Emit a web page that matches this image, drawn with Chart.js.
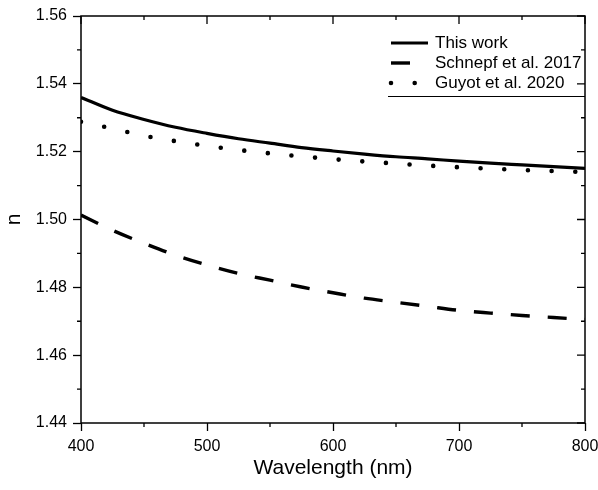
<!DOCTYPE html>
<html>
<head>
<meta charset="utf-8">
<script src="https://cdn.jsdelivr.net/npm/chart.js@4/dist/chart.umd.min.js"></script>
<style>
  body { margin: 0; background: #fff; }
  #chart { display: block; }
</style>
</head>
<body>
<canvas id="chart" width="598" height="490"></canvas>
<script>
// values (wavelength in nm, refractive index n)
const wavelengths = [400, 425, 450, 475, 500, 525, 550, 575, 600, 625, 650, 675, 700, 725, 750, 775, 800];
const thisWork = [1.5360, 1.5322, 1.5295, 1.5272, 1.5254, 1.5238, 1.5225, 1.5212, 1.5202, 1.5193, 1.5185, 1.5179, 1.5172, 1.5166, 1.5161, 1.5156, 1.5151];
const schnepf2017 = [1.5013, 1.4968, 1.4930, 1.4895, 1.4866, 1.4841, 1.4821, 1.4801, 1.4784, 1.4768, 1.4756, 1.4744, 1.4732, 1.4724, 1.4717, 1.4711, 1.4705];
const guyot2020 = [1.5288, 1.5268, 1.5247, 1.5231, 1.5217, 1.5205, 1.5195, 1.5186, 1.5178, 1.5171, 1.5165, 1.5159, 1.5154, 1.5150, 1.5146, 1.5143, 1.5140];
const seriesNames = ["This work", "Schnepf et al. 2017", "Guyot et al. 2020"];

const xRange = [400, 800];
const yRange = [1.44, 1.56];

const FONT = '"Liberation Sans", Arial, sans-serif';

const isMajorX = (v) => Math.round(v) % 100 === 0;
const isMajorY = (v) => Math.round(v * 100) % 2 === 0;

const toPoints = (values) => values.map((v, i) => ({ x: wavelengths[i], y: v }));

// box frame, mirrored inward ticks, minor ticks and the legend
const framePlugin = {
    id: "frame",
    afterDraw(chart) {
        const { ctx, chartArea, scales } = chart;
        const { left, right, top, bottom } = chartArea;
        ctx.save();
        ctx.strokeStyle = "#000";
        ctx.lineWidth = 1.5;
        ctx.setLineDash([]);
        ctx.strokeRect(left, top, right - left, bottom - top);

        ctx.lineWidth = 1.3;
        ctx.beginPath();
        scales.x.ticks.forEach((t) => {
            const px = scales.x.getPixelForValue(t.value);
            const major = isMajorX(t.value);
            ctx.moveTo(px, top);
            ctx.lineTo(px, top + (major ? 8 : 4));
            if (!major) {
                ctx.moveTo(px, bottom);
                ctx.lineTo(px, bottom + 4);
            }
        });
        scales.y.ticks.forEach((t) => {
            const py = scales.y.getPixelForValue(t.value);
            const major = isMajorY(t.value);
            ctx.moveTo(right, py);
            ctx.lineTo(right - (major ? 8 : 4), py);
            if (!major) {
                ctx.moveTo(left, py);
                ctx.lineTo(left - 4, py);
            }
        });
        ctx.stroke();

        // legend
        const lx = right - 194;
        const ly = top + 27;
        chart.data.datasets.forEach((ds, i) => {
            const yy = ly + i * 20;
            ctx.beginPath();
            ctx.strokeStyle = ds.borderColor;
            ctx.lineWidth = ds.borderWidth;
            ctx.lineCap = ds.borderCapStyle || "butt";
            ctx.setLineDash(ds.borderDash || []);
            ctx.moveTo(lx, yy);
            ctx.lineTo(lx + 37, yy);
            ctx.stroke();
            ctx.setLineDash([]);
            ctx.fillStyle = "#000";
            ctx.font = "17px " + FONT;
            ctx.textAlign = "left";
            ctx.textBaseline = "middle";
            ctx.fillText(ds.label, lx + 44, yy);
        });
        ctx.beginPath();
        ctx.lineWidth = 1;
        ctx.lineCap = "butt";
        ctx.strokeStyle = "#000";
        ctx.moveTo(lx - 3, top + 80.5);
        ctx.lineTo(right, top + 80.5);
        ctx.stroke();
        ctx.restore();
    },
};

const chart = new Chart(document.getElementById("chart"), {
    type: "line",
    data: {
        datasets: [
            {
                label: seriesNames[0],
                data: toPoints(thisWork),
                borderColor: "#000",
                borderWidth: 3.2,
            },
            {
                label: seriesNames[1],
                data: toPoints(schnepf2017),
                borderColor: "#000",
                borderWidth: 3.4,
                borderDash: [19, 18],
            },
            {
                label: seriesNames[2],
                data: toPoints(guyot2020),
                borderColor: "#000",
                borderWidth: 4.6,
                borderDash: [0, 23.7],
                borderCapStyle: "round",
            },
        ],
    },
    options: {
        responsive: false,
        animation: false,
        devicePixelRatio: 1,
        layout: { padding: { left: 0, right: 0, top: 16, bottom: 0 } },
        elements: {
            point: { radius: 0 },
            line: { cubicInterpolationMode: "monotone", fill: false },
        },
        plugins: {
            legend: { display: false },
            tooltip: { enabled: false },
        },
        scales: {
            x: {
                type: "linear",
                min: xRange[0],
                max: xRange[1],
                afterFit: (scale) => {
                    scale.height = 67;
                    scale.paddingLeft = 0;
                    scale.paddingRight = 13;
                },
                grid: {
                    drawOnChartArea: false,
                    tickLength: 8,
                    tickWidth: 1.3,
                    tickColor: (ctx) => (ctx.tick && isMajorX(ctx.tick.value) ? "#000" : "rgba(0,0,0,0)"),
                },
                border: { display: false },
                ticks: {
                    stepSize: 50,
                    autoSkip: false,
                    maxRotation: 0,
                    padding: 6,
                    color: "#000",
                    font: { family: FONT, size: 16 },
                    callback: (v) => (isMajorX(v) ? String(Math.round(v)) : ""),
                },
                title: {
                    display: true,
                    text: "Wavelength (nm)",
                    color: "#000",
                    font: { family: FONT, size: 21 },
                    padding: { top: 0, bottom: 9 },
                },
            },
            y: {
                min: yRange[0],
                max: yRange[1],
                afterFit: (scale) => { scale.width = 81; },
                grid: {
                    drawOnChartArea: false,
                    tickLength: 8,
                    tickWidth: 1.3,
                    tickColor: (ctx) => (ctx.tick && isMajorY(ctx.tick.value) ? "#000" : "rgba(0,0,0,0)"),
                },
                border: { display: false },
                ticks: {
                    stepSize: 0.01,
                    autoSkip: false,
                    padding: 6,
                    color: "#000",
                    font: { family: FONT, size: 16 },
                    callback: (v) => (isMajorY(v) ? v.toFixed(2) : ""),
                },
                title: {
                    display: true,
                    text: "n",
                    color: "#000",
                    font: { family: FONT, size: 21 },
                    padding: { top: 2, bottom: 0 },
                },
            },
        },
    },
    plugins: [framePlugin],
});
</script>
</body>
</html>
